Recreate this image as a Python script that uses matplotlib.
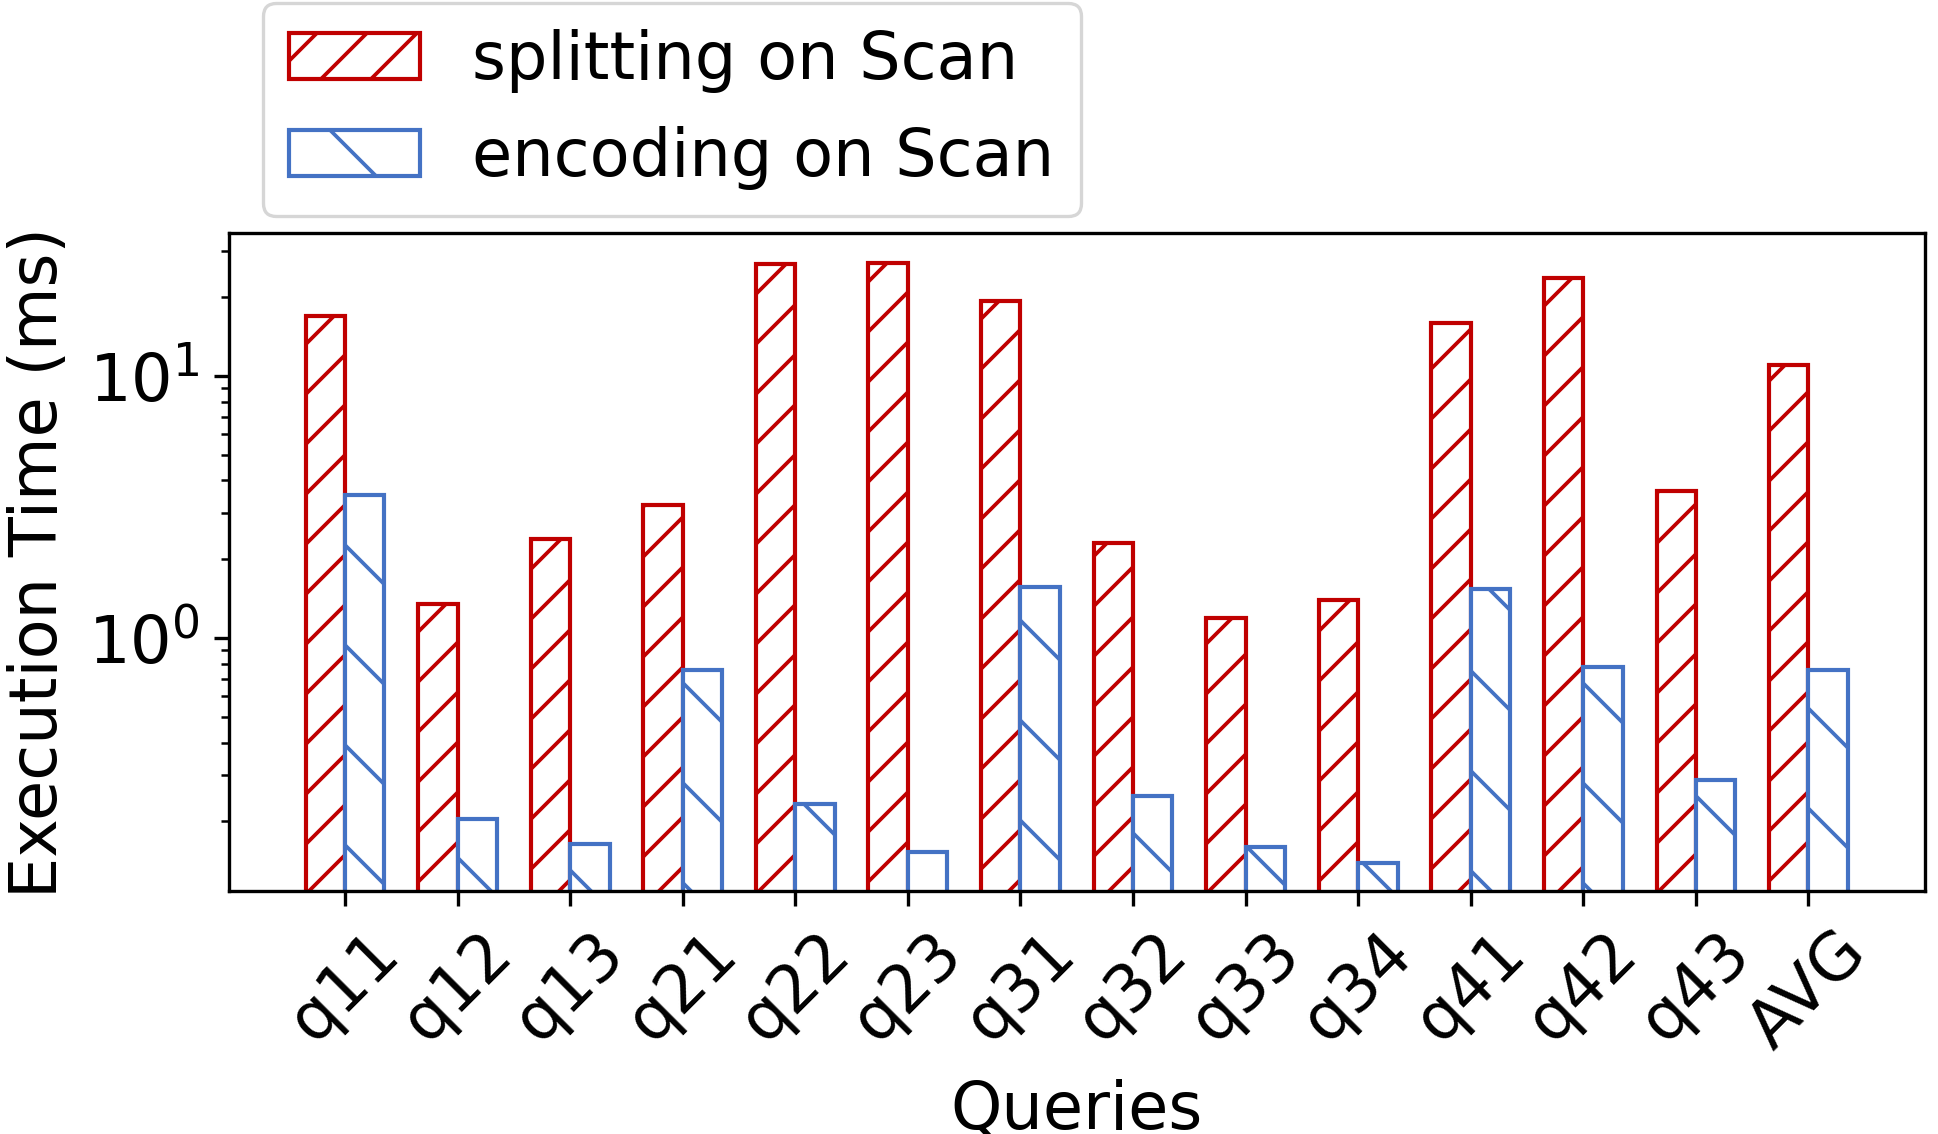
import numpy as np
import matplotlib
matplotlib.use('Agg')
import matplotlib.pyplot as plt

queries = ['q11', 'q12', 'q13', 'q21', 'q22', 'q23', 'q31', 'q32', 'q33', 'q34',
           'q41', 'q42', 'q43', 'AVG']
splitting = [16.9, 1.35, 2.40, 3.23, 26.9, 27.0, 19.3, 2.30, 1.19, 1.40, 15.9, 23.8, 3.65, 11.05]
encoding = [3.52, 0.205, 0.164, 0.758, 0.233, 0.153, 1.57, 0.251, 0.160, 0.139, 1.54, 0.777, 0.287, 0.756]

# rendered at 600 dpi, so point sizes are half of a 300 dpi layout
plt.rcParams['font.size'] = 7.85
plt.rcParams['axes.linewidth'] = 0.4
plt.rcParams['hatch.linewidth'] = 0.45
plt.rcParams['xtick.major.size'] = 1.75
plt.rcParams['ytick.major.size'] = 1.75
plt.rcParams['ytick.minor.size'] = 1.0
plt.rcParams['xtick.major.width'] = 0.4
plt.rcParams['ytick.major.width'] = 0.4
plt.rcParams['ytick.minor.width'] = 0.3
plt.rcParams['xtick.major.pad'] = 1.75
plt.rcParams['ytick.major.pad'] = 1.75
plt.rcParams['axes.labelpad'] = 2.0

fig, ax = plt.subplots(figsize=(1938 / 600, 1134 / 600), dpi=600)
fig.subplots_adjust(left=228.5 / 1938, right=1925 / 1938, bottom=1 - 891 / 1134, top=1 - 233 / 1134)

x = np.arange(len(queries))
w = 0.35
ax.bar(x - w / 2, splitting, w, facecolor='white', edgecolor='#C00000', hatch='////',
       linewidth=0.5, label='splitting on Scan')
ax.bar(x + w / 2, encoding, w, facecolor='white', edgecolor='#4472C4', hatch='\\\\',
       linewidth=0.5, label='encoding on Scan')

ax.set_yscale('log')
ax.set_ylim(0.1085, 35.2)
ax.set_xticks(x)
ax.set_xticklabels(queries, rotation=45)
ax.set_xlabel('Queries')
ax.set_ylabel('Execution Time (ms)')

leg = fig.legend(loc='upper left', bbox_to_anchor=(263 / 1938, 1 - 3 / 1134), borderaxespad=0)
leg.get_frame().set_linewidth(0.4)

fig.savefig('out.png', dpi=600)
